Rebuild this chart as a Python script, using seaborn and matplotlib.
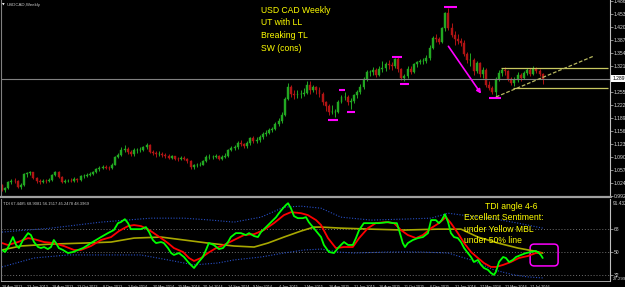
import matplotlib
matplotlib.use("Agg")

import numpy as np
import pandas as pd
import matplotlib.pyplot as plt
import seaborn as sns
from matplotlib.patches import FancyBboxPatch
from matplotlib.lines import Line2D
from matplotlib.transforms import blended_transform_factory

sns.set_style("dark")
plt.rcParams["font.family"] = ["Liberation Sans", "DejaVu Sans"]

# ---- weekly USDCAD candles (week 0 = 28 Apr 2013) ----
FIRST_OPEN = 1.020
CLOSE = [
    1.008, 1.013, 1.027, 1.031, 1.030, 1.016, 1.020, 1.047, 1.051, 1.052,
    1.038, 1.030, 1.028, 1.031, 1.030, 1.032, 1.045, 1.053, 1.040, 1.029,
    1.030, 1.031, 1.030, 1.036, 1.032, 1.042, 1.044, 1.046, 1.048, 1.052,
    1.061, 1.063, 1.067, 1.064, 1.063, 1.072, 1.092, 1.096, 1.110, 1.112,
    1.104, 1.098, 1.108, 1.108, 1.110, 1.116, 1.123, 1.105, 1.102, 1.098,
    1.100, 1.096, 1.095, 1.089, 1.093, 1.086, 1.085, 1.090, 1.087, 1.080,
    1.067, 1.070, 1.072, 1.072, 1.080, 1.092, 1.092, 1.092, 1.094, 1.087,
    1.092, 1.095, 1.109, 1.115, 1.117, 1.127, 1.124, 1.118, 1.126, 1.139,
    1.131, 1.135, 1.142, 1.150, 1.153, 1.159, 1.162, 1.175, 1.182, 1.199,
    1.239, 1.269, 1.250, 1.248, 1.252, 1.252, 1.254, 1.275, 1.262, 1.268,
    1.261, 1.251, 1.231, 1.221, 1.205, 1.205, 1.205, 1.232, 1.243, 1.244,
    1.231, 1.234, 1.248, 1.257, 1.268, 1.289, 1.306, 1.308, 1.312, 1.300,
    1.315, 1.316, 1.328, 1.325, 1.322, 1.339, 1.314, 1.291, 1.296, 1.314,
    1.308, 1.327, 1.333, 1.334, 1.336, 1.343, 1.369, 1.392, 1.391, 1.384,
    1.419, 1.456, 1.419, 1.400, 1.390, 1.386, 1.381, 1.353, 1.337, 1.338,
    1.309, 1.329, 1.301, 1.312, 1.275, 1.266, 1.255, 1.290, 1.305, 1.313,
    1.310, 1.290, 1.280, 1.287, 1.300, 1.292, 1.305, 1.312, 1.303, 1.315,
    1.310, 1.302, 1.2897,
]
HIGH = [
    1.022, 1.016, 1.030, 1.035, 1.037, 1.033, 1.025, 1.050, 1.054, 1.057,
    1.054, 1.041, 1.035, 1.036, 1.036, 1.037, 1.048, 1.056, 1.055, 1.042,
    1.035, 1.036, 1.037, 1.040, 1.039, 1.045, 1.049, 1.050, 1.053, 1.057,
    1.064, 1.068, 1.071, 1.070, 1.068, 1.076, 1.095, 1.101, 1.117, 1.122,
    1.116, 1.108, 1.113, 1.115, 1.117, 1.120, 1.128, 1.125, 1.108, 1.106,
    1.107, 1.104, 1.102, 1.098, 1.097, 1.095, 1.092, 1.095, 1.094, 1.090,
    1.083, 1.074, 1.077, 1.079, 1.084, 1.097, 1.098, 1.097, 1.099, 1.097,
    1.096, 1.101, 1.112, 1.120, 1.123, 1.131, 1.134, 1.128, 1.132, 1.142,
    1.144, 1.141, 1.146, 1.154, 1.160, 1.164, 1.168, 1.180, 1.190, 1.206,
    1.243, 1.280, 1.273, 1.260, 1.261, 1.260, 1.266, 1.283, 1.284, 1.275,
    1.272, 1.270, 1.256, 1.234, 1.226, 1.222, 1.214, 1.236, 1.249, 1.256,
    1.248, 1.242, 1.252, 1.262, 1.276, 1.294, 1.312, 1.313, 1.319, 1.317,
    1.321, 1.335, 1.333, 1.337, 1.333, 1.343, 1.346, 1.318, 1.303, 1.321,
    1.323, 1.330, 1.336, 1.341, 1.343, 1.350, 1.375, 1.398, 1.402, 1.396,
    1.421, 1.460, 1.469, 1.430, 1.412, 1.403, 1.394, 1.388, 1.358, 1.354,
    1.342, 1.336, 1.332, 1.320, 1.316, 1.285, 1.272, 1.294, 1.312, 1.318,
    1.319, 1.313, 1.294, 1.293, 1.306, 1.304, 1.310, 1.318, 1.316, 1.321,
    1.320, 1.315, 1.305,
]
LOW = [
    1.004, 1.002, 1.011, 1.024, 1.026, 1.013, 1.011, 1.018, 1.040, 1.045,
    1.035, 1.026, 1.024, 1.025, 1.026, 1.027, 1.030, 1.042, 1.037, 1.026,
    1.025, 1.027, 1.027, 1.028, 1.028, 1.030, 1.039, 1.041, 1.043, 1.045,
    1.050, 1.057, 1.060, 1.060, 1.059, 1.061, 1.070, 1.088, 1.093, 1.105,
    1.099, 1.093, 1.095, 1.102, 1.103, 1.106, 1.112, 1.102, 1.096, 1.092,
    1.094, 1.091, 1.090, 1.085, 1.086, 1.083, 1.081, 1.083, 1.083, 1.076,
    1.062, 1.062, 1.066, 1.068, 1.070, 1.078, 1.086, 1.086, 1.088, 1.083,
    1.083, 1.088, 1.092, 1.106, 1.110, 1.112, 1.118, 1.113, 1.114, 1.122,
    1.127, 1.126, 1.130, 1.136, 1.145, 1.150, 1.154, 1.159, 1.170, 1.178,
    1.195, 1.235, 1.243, 1.238, 1.240, 1.242, 1.245, 1.250, 1.252, 1.255,
    1.251, 1.243, 1.224, 1.207, 1.197, 1.200, 1.192, 1.203, 1.228, 1.235,
    1.222, 1.213, 1.228, 1.240, 1.250, 1.264, 1.284, 1.296, 1.300, 1.295,
    1.296, 1.306, 1.310, 1.315, 1.312, 1.318, 1.308, 1.286, 1.283, 1.292,
    1.303, 1.305, 1.320, 1.326, 1.328, 1.330, 1.337, 1.364, 1.383, 1.378,
    1.380, 1.412, 1.413, 1.396, 1.375, 1.377, 1.372, 1.348, 1.330, 1.322,
    1.300, 1.304, 1.295, 1.292, 1.270, 1.260, 1.251, 1.246, 1.285, 1.298,
    1.300, 1.285, 1.274, 1.272, 1.282, 1.285, 1.288, 1.300, 1.298, 1.300,
    1.304, 1.296, 1.277,
]

# ---- TDI lines (week, value) ----
GREEN_WK = [0, 1, 2, 3.5, 4.5, 5.4, 6.7, 8.3, 9.2, 10.2,
            11.5, 12.4, 13.4, 14.6, 15.6, 16.5, 17.2, 18.1, 19.4, 21.0,
            22.6, 24.2, 25.8, 27.4, 28.3, 29.9, 31.5, 33.7, 35.6, 36.9,
            37.8, 39.1, 40.1, 41.0, 44.2, 45.8, 46.8, 48.0, 49.0, 50.6,
            51.5, 52.8, 53.8, 54.7, 56.3, 57.9, 59.2, 60.1, 61.1, 62.3,
            63.9, 64.9, 65.8, 67.4, 69.0, 70.3, 71.9, 72.8, 74.4, 76.0,
            77.6, 78.6, 80.2, 81.4, 82.4, 84.0, 85.6, 87.2, 88.1, 89.4,
            90.3, 91.0, 91.9, 92.9, 94.1, 95.7, 96.7, 97.6, 98.9, 100.5,
            101.5, 102.4, 104.0, 105.6, 106.9, 107.8, 108.8, 110.1, 111.6, 112.6,
            113.6, 115.1, 117.4, 119.9, 122.8, 124.4, 125.6, 126.3, 127.5, 128.2,
            129.1, 130.7, 132.3, 133.9, 135.5, 136.5, 138.0, 139.0, 139.9, 140.9,
            141.9, 142.8, 143.8, 145.0, 146.0, 147.0, 148.2, 149.2, 150.1, 151.4,
            152.4, 153.3, 154.6, 155.5, 156.5, 157.1, 158.1, 159.4, 160.3, 161.3,
            162.5, 163.5, 165.1, 166.7, 168.3, 169.8, 170.8, 171.4, 172.0]
GREEN_VAL = [51.6, 50.0, 53.9, 61.7, 55.5, 53.1, 59.4, 64.8, 63.3, 57.8,
             53.9, 53.1, 53.9, 52.3, 53.9, 59.4, 57.0, 53.1, 51.6, 49.2,
             50.0, 51.6, 53.1, 55.5, 57.0, 59.4, 61.7, 64.8, 67.2, 72.6,
             73.4, 75.7, 72.6, 67.9, 67.9, 69.5, 65.6, 59.4, 57.0, 57.8,
             57.0, 53.1, 49.2, 47.7, 49.2, 46.1, 42.2, 39.9, 37.5, 41.4,
             46.1, 51.6, 57.0, 55.5, 52.3, 53.1, 57.8, 61.7, 64.8, 64.8,
             63.3, 64.8, 62.5, 61.7, 65.6, 69.5, 73.4, 77.3, 80.4, 84.3,
             86.7, 88.2, 84.3, 78.1, 76.5, 76.5, 77.3, 73.4, 69.5, 64.8,
             61.7, 55.5, 50.0, 49.2, 53.1, 55.5, 57.8, 55.5, 55.5, 60.9,
             67.2, 72.6, 72.6, 72.6, 73.4, 72.6, 72.6, 67.2, 57.0, 53.9,
             57.0, 59.4, 60.9, 61.7, 64.8, 75.0, 75.0, 72.6, 75.0, 79.6,
             73.4, 64.8, 61.7, 60.9, 57.8, 53.1, 49.2, 46.1, 42.2, 43.8,
             39.9, 37.5, 36.0, 33.6, 32.1, 34.4, 42.2, 46.1, 45.3, 42.2,
             43.8, 46.1, 47.7, 49.2, 50.0, 50.8, 49.2, 47.7, 45.3]
RED_WK = [0, 1.9, 5.1, 8.3, 10.2, 13.4, 16.5, 19.7, 22.9, 25.1,
          28.3, 31.5, 34.7, 37.2, 40.1, 42.0, 44.2, 46.4, 48.3, 50.6,
          52.8, 54.7, 57.6, 59.5, 61.1, 63.3, 65.5, 68.1, 70.6, 73.8,
          77.0, 80.2, 83.3, 86.5, 89.7, 91.9, 95.1, 97.3, 99.9, 101.5,
          103.7, 106.2, 108.8, 111.6, 113.6, 116.4, 118.9, 122.1, 124.7, 126.9,
          129.1, 131.7, 133.9, 136.5, 139.0, 141.2, 142.8, 145.0, 147.0, 149.2,
          151.4, 153.3, 155.5, 157.1, 159.4, 161.9, 164.4, 167.3, 169.8, 171.4]
RED_VAL = [57.0, 55.5, 57.8, 60.9, 60.1, 57.8, 57.0, 54.7, 51.6, 51.6,
           54.7, 59.4, 61.7, 66.4, 70.3, 71.1, 70.3, 67.9, 64.8, 60.9,
           57.0, 53.1, 50.0, 45.3, 43.0, 45.3, 49.2, 53.1, 55.5, 59.4,
           63.3, 64.0, 67.2, 72.6, 78.9, 81.2, 80.4, 78.9, 75.0, 71.1,
           60.9, 53.1, 53.9, 53.9, 60.9, 68.7, 72.6, 73.4, 72.6, 67.2,
           63.3, 60.9, 63.3, 68.7, 72.6, 77.3, 72.6, 64.8, 57.0, 50.0,
           45.3, 41.4, 38.3, 38.3, 39.9, 42.2, 45.3, 46.9, 49.2, 49.2]
MBL_WK = [0, 6.0, 15.6, 26.1, 34.7, 42.0, 50.6, 57.9, 65.5, 73.8, 80.2, 84.6, 89.7,
          95.1, 99.2, 101.5, 107.8, 117.4, 127.9, 138.7, 146.0, 151.4, 157.8,
          164.1, 169.2, 172.0]
MBL_VAL = [51.6, 54.7, 56.2, 57.0, 57.8, 60.9, 61.7, 59.4, 57.0, 54.7, 53.9, 57.0, 61.7,
           66.4, 69.5, 69.5, 68.7, 67.9, 67.2, 67.9, 67.9, 61.7, 57.0,
           53.1, 50.8, 49.2]
UPPER_WK = [0, 15.6, 31.5, 47.4, 57.9, 66.5, 73.8, 82.4, 89.7, 95.1, 101.5, 107.8,
            117.4, 126.9, 136.5, 141.9, 149.2, 156.5, 164.4, 172.0]
UPPER_VAL = [65.6, 68.7, 73.4, 76.5, 76.5, 75.0, 73.4, 77.3, 85.1, 85.9, 84.3, 77.3,
             75.0, 75.7, 76.5, 80.4, 78.0, 76.0, 72.5, 68.7]
LOWER_WK = [0, 10.2, 21.0, 31.5, 44.2, 52.8, 61.1, 68.7, 73.8, 82.4, 89.7, 96.1,
            101.5, 106.9, 112.0, 122.8, 133.3, 141.9, 149.2, 156.5, 162.8, 167.3, 172.1]
LOWER_VAL = [38.3, 45.3, 47.7, 47.7, 47.7, 43.8, 39.9, 41.4, 43.8, 46.1, 49.2, 51.6,
             52.3, 50.0, 49.2, 50.0, 50.0, 49.2, 43.8, 36.0, 32.1, 30.5, 29.7]
TDI_LEVELS = [32, 50, 68]

# ---- annotations drawn on the price panel (week, price) ----
MARK_START = [140.5, 124.0, 126.6, 107.2, 103.7, 109.7, 154.9]
MARK_END = [144.7, 127.2, 129.5, 109.1, 106.9, 112.3, 158.7]
MARK_PRICE = [1.4710, 1.3460, 1.2765, 1.2612, 1.1851, 1.2054, 1.2410]
ARROW_FROM = (141.5, 1.3779)
ARROW_TO = (152.9, 1.2460)
CHANNEL_TOP = (158.7, 192.7, 1.3170)
CHANNEL_BOTTOM = (162.5, 192.7, 1.2663)
TRENDLINE = ([157.1, 188.3], [1.2435, 1.3475])
BOX_TDI = (168.0, 176.9, 39.1, 56.2)

PRICE_TICKS = [0.9924, 1.0245, 1.0575, 1.0905, 1.1235, 1.1565, 1.1895, 1.2225,
               1.2555, 1.3215, 1.3545, 1.3875, 1.4205, 1.4535, 1.4865]
DATE_LABELS = ["28 Apr 2013", "23 Jun 2013", "18 Aug 2013", "13 Oct 2013", "8 Dec 2013",
               "2 Feb 2014", "30 Mar 2014", "25 May 2014", "20 Jul 2014", "14 Sep 2014",
               "9 Nov 2014", "4 Jan 2015", "1 Mar 2015", "26 Apr 2015", "21 Jun 2015",
               "16 Aug 2015", "11 Oct 2015", "6 Dec 2015", "31 Jan 2016", "27 Mar 2016",
               "22 May 2016", "17 Jul 2016"]
DATE_STEP = 8

BULL = "#22a822"
BEAR = "#b01414"
MAGENTA = "#ff00ff"
YELLOW = "#ffff00"
AXIS = "#c0c0c0"
TXT = "#d8d8d8"

XLIM = (-0.3, 193.4)
YLIM = (0.9924, 1.4895)
TDI_YLIM = (27.3, 91.5)

fig = plt.figure(figsize=(6.25, 2.87), dpi=100, facecolor="black")
ax = fig.add_axes([0.0016, 0.3171, 0.9744, 0.6829])
ax2 = fig.add_axes([0.0016, 0.0209, 0.9744, 0.2857])
for a in (ax, ax2):
    a.set_facecolor("black")
    a.set_xlim(*XLIM)
    a.grid(False)
    for side in ("top", "bottom"):
        a.spines[side].set_visible(False)
    a.spines["left"].set_color("#808080")
    a.spines["right"].set_color(AXIS)
    a.spines["left"].set_linewidth(0.8)
    a.spines["right"].set_linewidth(0.8)
    a.yaxis.tick_right()
    a.tick_params(axis="y", length=2, width=0.5, color=AXIS, labelcolor=TXT,
                  labelsize=3.6, pad=0.8)
ax2.spines["bottom"].set_visible(True)
ax2.spines["bottom"].set_color(AXIS)
ax2.spines["bottom"].set_linewidth(0.6)

# ---- candles ----
close = np.array(CLOSE)
opens = np.r_[FIRST_OPEN, close[:-1]]
high = np.maximum(np.array(HIGH), np.maximum(opens, close))
low = np.minimum(np.array(LOW), np.minimum(opens, close))
weeks = np.arange(len(close))
up = close >= opens
for mask, col in ((up, BULL), (~up, BEAR)):
    ax.vlines(weeks[mask], low[mask], high[mask], color=col, lw=0.7)
    ax.bar(weeks[mask], (close - opens)[mask], bottom=opens[mask], width=0.62,
           color=col, edgecolor=col, linewidth=0.3)

ax.set_ylim(*YLIM)
ax.set_xticks([])
ax.set_yticks(PRICE_TICKS)
ax.set_yticklabels([f"{v:.4f}" for v in PRICE_TICKS])

# current price line and label
ax.axhline(close[-1], color="#808080", lw=0.8)
tr = blended_transform_factory(ax.transAxes, ax.transData)
ax.text(1.004, close[-1], f"{close[-1]:.4f}", transform=tr, fontsize=3.6, color="black",
        va="center", ha="left",
        bbox=dict(boxstyle="square,pad=0.2", fc="white", ec="none"))

# highs / lows markers, arrow, channel and trend line
ax.hlines(MARK_PRICE, MARK_START, MARK_END, color=MAGENTA, lw=1.5)
ax.annotate("", xy=ARROW_TO, xytext=ARROW_FROM,
            arrowprops=dict(arrowstyle="-|>", color=MAGENTA, lw=1.2, mutation_scale=6))
ax.hlines(CHANNEL_TOP[2], CHANNEL_TOP[0], CHANNEL_TOP[1], color="#c8c860", lw=0.9)
ax.hlines(CHANNEL_BOTTOM[2], CHANNEL_BOTTOM[0], CHANNEL_BOTTOM[1], color="#c8c860", lw=0.9)
ax.plot(TRENDLINE[0], TRENDLINE[1], color="#b8b860", lw=0.9, ls=(0, (3, 1.5)))

ax.text(0.009, 0.985, "USDCAD,Weekly", transform=ax.transAxes, fontsize=3.2,
        color="#c8c8c8", va="top", ha="left")
ax.text(0.002, 0.985, "\u25bc", transform=ax.transAxes, fontsize=2.5,
        color="white", va="top", ha="left", family="DejaVu Sans")

for i, line in enumerate(["USD CAD Weekly", "UT with LL", "Breaking TL", "SW (cons)"]):
    ax.text(0.427, [0.946, 0.884, 0.821, 0.750][i], line, transform=ax.transAxes,
            fontsize=6.2, color=YELLOW, va="center", ha="left")

# ---- TDI panel ----
for lv in TDI_LEVELS:
    ax2.axhline(lv, color="#707070", lw=0.7, ls=(0, (1, 2)))

bands = pd.concat([
    pd.DataFrame({"week": UPPER_WK, "value": UPPER_VAL, "line": "upper"}),
    pd.DataFrame({"week": LOWER_WK, "value": LOWER_VAL, "line": "lower"}),
])
for name, grp in bands.groupby("line"):
    sns.lineplot(data=grp, x="week", y="value", ax=ax2, color="#2850c8", lw=0.8,
                 linestyle=(0, (1, 1.5)), estimator=None, legend=False)
sns.lineplot(x=MBL_WK, y=MBL_VAL, ax=ax2, color="#a8a800", lw=1.2, estimator=None)
sns.lineplot(x=RED_WK, y=RED_VAL, ax=ax2, color="#ff0000", lw=1.3, estimator=None)
sns.lineplot(x=GREEN_WK, y=GREEN_VAL, ax=ax2, color="#00ff00", lw=1.3, estimator=None)

ax2.set_ylim(*TDI_YLIM)
ax2.set_yticks(TDI_LEVELS)
ax2.set_yticklabels([str(v) for v in TDI_LEVELS])
ax2.set_xlabel("")
ax2.set_ylabel("")
tr2 = blended_transform_factory(ax2.transAxes, ax2.transAxes)
ax2.text(1.004, 0.975, "91.4322", transform=tr2, fontsize=3.4, color=TXT, va="top", ha="left")
ax2.text(1.004, -0.005, "27.2996", transform=tr2, fontsize=3.2, color=TXT, va="bottom", ha="left")

date_pos = [k * DATE_STEP for k in range(len(DATE_LABELS))]
ax2.set_xticks(date_pos)
ax2.set_xticklabels(DATE_LABELS)
ax2.tick_params(axis="x", length=2, width=0.5, color=AXIS, labelcolor=TXT,
                labelsize=2.7, pad=0.6)
for lab in ax2.get_xticklabels():
    lab.set_ha("left")

ax2.text(0.004, 0.96, "TDI 67.4485 68.9081 56.1517 45.2478 48.3969", transform=ax2.transAxes,
         fontsize=3.0, color="#c8c8c8", va="top", ha="left")

b0, b1, v0, v1 = BOX_TDI
ax2.add_patch(FancyBboxPatch((b0, v0), b1 - b0, v1 - v0,
                             boxstyle="round,pad=0,rounding_size=1.3", mutation_aspect=2.4,
                             ec=MAGENTA, fc="none", lw=1.1))

tdi_lines = ["TDI angle 4-6", "Excellent Sentiment:", "under Yellow MBL", "under 50% line"]
tdi_x = [0.795, 0.760, 0.760, 0.760]
tdi_y = [0.906, 0.774, 0.634, 0.500]
for t, x, y in zip(tdi_lines, tdi_x, tdi_y):
    ax2.text(x, y, t, transform=ax2.transAxes, fontsize=6.2, color=YELLOW,
             va="center", ha="left")

# panel separator
fig.add_artist(Line2D([0, 0.9776], [0.3136, 0.3136], color="#a0a0a0", lw=1.6))

fig.savefig("out.png", dpi=100, facecolor="black")
